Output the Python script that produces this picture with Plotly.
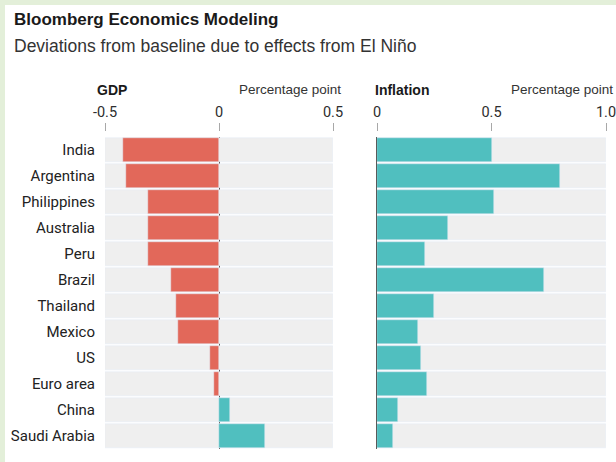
import plotly.graph_objects as go

# Data
countries = ["India", "Argentina", "Philippines", "Australia", "Peru", "Brazil",
             "Thailand", "Mexico", "US", "Euro area", "China", "Saudi Arabia"]
gdp = [-0.42, -0.41, -0.31, -0.31, -0.31, -0.21, -0.19, -0.18, -0.04, -0.02, 0.05, 0.20]
inflation = [0.50, 0.80, 0.51, 0.31, 0.21, 0.73, 0.25, 0.18, 0.19, 0.22, 0.09, 0.07]
gdp_ticks = [-0.5, 0, 0.5]
gdp_ticktext = ["-0.5", "0", "0.5"]
infl_ticks = [0, 0.5, 1.0]
infl_ticktext = ["0", "0.5", "1.0"]

W, H = 616, 462
RED = "#e2685a"
TEAL = "#50bfbf"
BAND = "#efefef"
LABEL = "Roboto, Arial, sans-serif"
SANS = "Liberation Sans, Arial, sans-serif"


def px_x(p):
    return p / W


def px_y(p):
    return (H - p) / H


fig = go.Figure()

# grey row bands spanning each panel's full range
fig.add_trace(go.Bar(y=countries, x=[gdp_ticks[-1] - gdp_ticks[0]] * len(countries),
                     base=gdp_ticks[0], orientation="h", marker_color=BAND,
                     width=0.92, xaxis="x", yaxis="y", hoverinfo="skip"))
fig.add_trace(go.Bar(y=countries, x=[infl_ticks[-1] - infl_ticks[0]] * len(countries),
                     base=infl_ticks[0], orientation="h", marker_color=BAND,
                     width=0.92, xaxis="x2", yaxis="y2", hoverinfo="skip"))

# value bars
fig.add_trace(go.Bar(y=countries, x=gdp, orientation="h",
                     marker_color=[RED if v < 0 else TEAL for v in gdp],
                     width=0.92, xaxis="x", yaxis="y"))
fig.add_trace(go.Bar(y=countries, x=inflation, orientation="h",
                     marker_color=TEAL, width=0.92, xaxis="x2", yaxis="y2"))

ydom = [px_y(449), px_y(137)]
tick_pos = px_y(131)

common_x = dict(side="top", anchor="free", position=tick_pos, showgrid=False,
                ticks="outside", ticklen=8, tickwidth=1, tickcolor="#a8a8a8",
                tickfont=dict(family=LABEL, size=14.5, color="#2e2e2e"),
                ticklabeloverflow="allow",
                layer="above traces", showline=False, fixedrange=True,
                automargin=False)

fig.update_layout(
    width=W, height=H,
    margin=dict(l=0, r=0, t=0, b=0, pad=0),
    paper_bgcolor="white", plot_bgcolor="white",
    barmode="overlay", bargap=0, showlegend=False,
    xaxis=dict(domain=[px_x(105), px_x(333)], range=[-0.5, 0.5],
               tickvals=gdp_ticks, ticktext=gdp_ticktext,
               zeroline=True, zerolinecolor="#4a4a4a", zerolinewidth=1,
               **common_x),
    xaxis2=dict(domain=[px_x(377), px_x(606)], range=[0, 1.0],
                tickvals=infl_ticks, ticktext=infl_ticktext,
                zeroline=False, **common_x),
    yaxis=dict(domain=ydom, anchor="x", autorange="reversed", showgrid=False,
               zeroline=False, ticks="", ticklabelstandoff=9, automargin=False,
               tickfont=dict(family=LABEL, size=15, color="#222222")),
    yaxis2=dict(domain=ydom, anchor="x2", autorange="reversed", showgrid=False,
                zeroline=False, showticklabels=False, showline=True,
                linecolor="#5a5a5a", linewidth=1, layer="above traces",
                automargin=False),
    shapes=[
        dict(type="rect", xref="paper", yref="paper", x0=0, x1=1,
             y0=px_y(5), y1=1, fillcolor="#e3efd9", line_width=0, layer="below"),
        dict(type="rect", xref="paper", yref="paper", x0=0, x1=px_x(5),
             y0=0, y1=1, fillcolor="#e3efd9", line_width=0, layer="below"),
    ],
    annotations=[
        dict(text="<b>Bloomberg Economics Modeling</b>", x=px_x(12), y=px_y(20),
             xref="paper", yref="paper", xanchor="left", yanchor="middle",
             showarrow=False, font=dict(family=SANS, size=17, color="#1a1a1a")),
        dict(text="Deviations from baseline due to effects from El Niño", x=px_x(12),
             y=px_y(46), xref="paper", yref="paper", xanchor="left", yanchor="middle",
             showarrow=False, font=dict(family=SANS, size=17.5, color="#333333")),
        dict(text="<b>GDP</b>", x=px_x(95), y=px_y(90), xref="paper", yref="paper",
             xanchor="left", yanchor="middle", showarrow=False,
             font=dict(family=SANS, size=14, color="#1a1a1a")),
        dict(text="Percentage point", x=px_x(343), y=px_y(90), xref="paper",
             yref="paper", xanchor="right", yanchor="middle", showarrow=False,
             font=dict(family=SANS, size=13.5, color="#333333")),
        dict(text="<b>Inflation</b>", x=px_x(373), y=px_y(90), xref="paper",
             yref="paper", xanchor="left", yanchor="middle", showarrow=False,
             font=dict(family=SANS, size=14, color="#1a1a1a")),
        dict(text="Percentage point", x=px_x(615), y=px_y(90), xref="paper",
             yref="paper", xanchor="right", yanchor="middle", showarrow=False,
             font=dict(family=SANS, size=13.5, color="#333333")),
    ],
)

fig.write_html("out.html")
